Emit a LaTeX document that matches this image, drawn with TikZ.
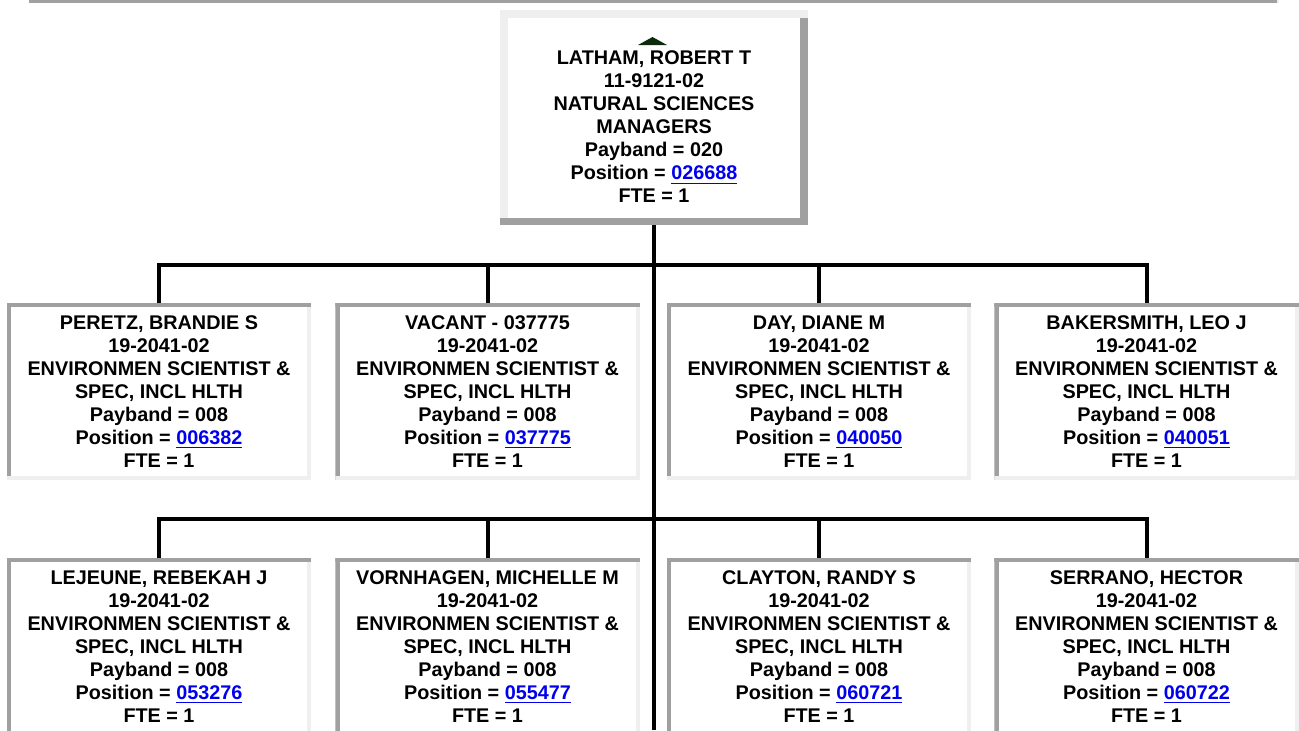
\documentclass[tikz,border=0pt]{standalone}
\usepackage{fontspec}
\setmainfont{Liberation Sans}
\usepackage{xcolor}
\definecolor{cEdgeDark}{HTML}{A0A0A0}
\definecolor{cEdgeLight}{HTML}{EFEFEF}
\definecolor{cLink}{HTML}{0000EE}
\definecolor{cUp}{HTML}{0B2B0B}
\usepackage{tikz}
\usetikzlibrary{positioning,calc}
\newcommand{\poslink}[1]{\textcolor{cLink}{\underline{#1}}}
\tikzset{
  node-text/.style={align=center,inner sep=0pt,outer sep=0pt,
    font=\fontsize{9.9}{11.5}\selectfont\bfseries},
  % raised box for the manager, sunken boxes for the staff
  node-lead/.style={node-text,fill=white,minimum width=154pt,minimum height=107.5pt,
    path picture={
      \fill[cEdgeLight] (path picture bounding box.south west) rectangle ([xshift=4pt]path picture bounding box.north west);
      \fill[cEdgeDark] (path picture bounding box.south east) rectangle ([xshift=-4pt]path picture bounding box.north east);
      \fill[cEdgeLight] (path picture bounding box.north west) rectangle ([yshift=-3.75pt]path picture bounding box.north east);
      \fill[cEdgeDark] (path picture bounding box.south west) rectangle ([yshift=3.75pt]path picture bounding box.south east);
    }},
  node-staff/.style={node-text,fill=white,minimum width=152.25pt,minimum height=88.5pt,
    path picture={
      \fill[cEdgeDark] (path picture bounding box.south west) rectangle ([xshift=2.25pt]path picture bounding box.north west);
      \fill[cEdgeLight] (path picture bounding box.south east) rectangle ([xshift=-2pt]path picture bounding box.north east);
      \fill[cEdgeDark] (path picture bounding box.north west) rectangle ([yshift=-2pt]path picture bounding box.north east);
      \fill[cEdgeLight] (path picture bounding box.south west) rectangle ([yshift=2pt]path picture bounding box.south east);
    }},
  conn-line/.style={line width=2pt,draw=black},
}

\begin{document}
\begin{tikzpicture}[x=0.5pt,y=-0.5pt]
  \useasboundingbox (0,0) rectangle (1299,730);
  \clip (0,0) rectangle (1299,730);
  % rule along the top
  \fill[cEdgeDark] (29,0) rectangle (1277,2.7);
  \fill[cEdgeLight] (1277,0) rectangle (1279,2.7);

  \node[node-lead] (lead) at (654,117.5) {};
  \node[node-text] (lead-text) at ($(lead)+(0,9.5)$) {LATHAM, ROBERT T\\11-9121-02\\NATURAL SCIENCES\\MANAGERS\\Payband = 020\\Position = \poslink{026688}\\FTE = 1};
  \fill[cUp] ($(lead.north)+(-16,35)$) -- ($(lead.north)+(13,35)$) -- ($(lead.north)+(-1.5,27)$) -- cycle;

  % first row
  \node[node-staff] (p1) at (159,391.5) {PERETZ, BRANDIE S\\19-2041-02\\ENVIRONMEN SCIENTIST \&\\SPEC, INCL HLTH\\Payband = 008\\Position = \poslink{006382}\\FTE = 1};
  \node[node-staff,right=12pt of p1] (p2) {VACANT - 037775\\19-2041-02\\ENVIRONMEN SCIENTIST \&\\SPEC, INCL HLTH\\Payband = 008\\Position = \poslink{037775}\\FTE = 1};
  \node[node-staff,right=13.5pt of p2] (p3) {DAY, DIANE M\\19-2041-02\\ENVIRONMEN SCIENTIST \&\\SPEC, INCL HLTH\\Payband = 008\\Position = \poslink{040050}\\FTE = 1};
  \node[node-staff,right=11.5pt of p3] (p4) {BAKERSMITH, LEO J\\19-2041-02\\ENVIRONMEN SCIENTIST \&\\SPEC, INCL HLTH\\Payband = 008\\Position = \poslink{040051}\\FTE = 1};

  % second row
  \node[node-staff,below=39pt of p1] (q1) {LEJEUNE, REBEKAH J\\19-2041-02\\ENVIRONMEN SCIENTIST \&\\SPEC, INCL HLTH\\Payband = 008\\Position = \poslink{053276}\\FTE = 1};
  \node[node-staff,below=39pt of p2] (q2) {VORNHAGEN, MICHELLE M\\19-2041-02\\ENVIRONMEN SCIENTIST \&\\SPEC, INCL HLTH\\Payband = 008\\Position = \poslink{055477}\\FTE = 1};
  \node[node-staff,below=39pt of p3] (q3) {CLAYTON, RANDY S\\19-2041-02\\ENVIRONMEN SCIENTIST \&\\SPEC, INCL HLTH\\Payband = 008\\Position = \poslink{060721}\\FTE = 1};
  \node[node-staff,below=39pt of p4] (q4) {SERRANO, HECTOR\\19-2041-02\\ENVIRONMEN SCIENTIST \&\\SPEC, INCL HLTH\\Payband = 008\\Position = \poslink{060722}\\FTE = 1};

  % connectors
  \coordinate (bar-a) at (654,264.7);
  \coordinate (bar-b) at (654,519);
  \coordinate (trunk-end) at (654,730);
  \draw[conn-line] (lead.south) -- (trunk-end);
  \draw[conn-line] (p1.north) |- (bar-a) -| (p4.north);
  \draw[conn-line] (p2.north) -- (p2.north |- bar-a);
  \draw[conn-line] (p3.north) -- (p3.north |- bar-a);
  \draw[conn-line] (q1.north) |- (bar-b) -| (q4.north);
  \draw[conn-line] (q2.north) -- (q2.north |- bar-b);
  \draw[conn-line] (q3.north) -- (q3.north |- bar-b);
\end{tikzpicture}
\end{document}
